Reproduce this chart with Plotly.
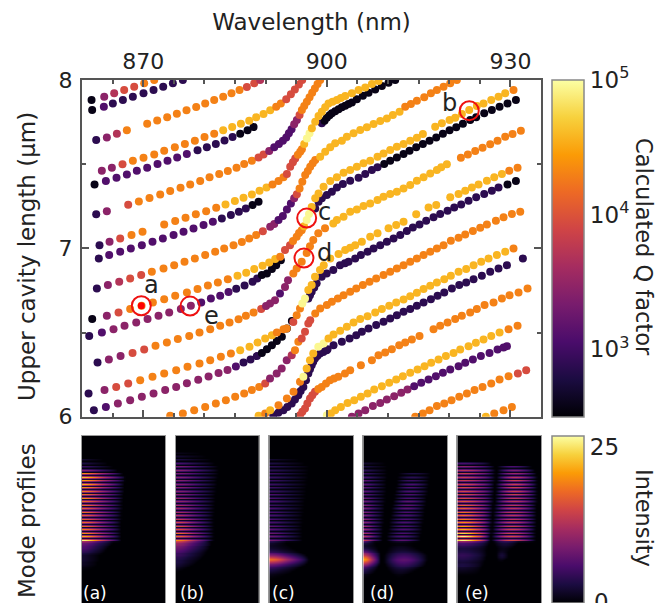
import numpy as np
import plotly.graph_objects as go

W, H = 658, 603
FONT = "DejaVu Sans"
TEXT = "#222222"

# ---- Q levels (log10 Q) ----
Q_LEVELS = dict(K=2.58, D=2.88, P=3.1, M=3.45, A=3.7, R=3.95, O=4.3, G=4.58, Y=4.95)

# ---- branches: wavelength (nm), upper cavity length (um), Q class per point ----
b01_nm = [861.56,863.63,865.26,866.89,868.53,870.16,871.8]
b01_um = [7.881,7.901,7.921,7.941,7.960,7.980,8.0]
b01_q = "KMARROO"

b02_nm = [861.66,863.57,865.04,866.68,868.31,870.05,871.69,873.27,874.85,876.48]
b02_um = [7.822,7.841,7.861,7.881,7.901,7.921,7.941,7.960,7.980,8.0]
b02_q = "KPDDDDDDDD"

b03_nm = [862.32,864.06,865.70,867.33,870.65,872.29,873.92,875.50,877.08,878.66,880.13,881.60,883.07,884.43,885.74,886.94,888.14,889.12]
b03_um = [7.643,7.659,7.681,7.701,7.740,7.760,7.778,7.800,7.820,7.840,7.861,7.881,7.901,7.921,7.941,7.958,7.980,8.0]
b03_q = "DMAOOOOOOOOOOOORRA"

b04_nm = [863.24,864.88,866.62,868.31,870.05,871.80,873.43,875.17,876.81,878.44,880.02,881.60,883.07,884.54,885.96,887.32,888.46,889.66,890.75,891.73,892.49,893.37,894.13,894.78,895.44,895.98]
b04_um = [7.461,7.479,7.499,7.521,7.538,7.558,7.580,7.600,7.620,7.639,7.661,7.681,7.701,7.721,7.740,7.758,7.778,7.798,7.820,7.841,7.861,7.885,7.915,7.944,7.974,8.0]
b04_q = "MMROOOOOOOOOGGGGGGGOORRRRR"

b05_nm = [862.05,863.90,865.64,867.33,868.96,870.65,872.34,873.97,875.55,877.13,878.88,880.40,881.87,883.29,884.60,885.85,887.05,888.03]
b05_um = [7.380,7.400,7.420,7.439,7.461,7.479,7.501,7.521,7.540,7.560,7.582,7.600,7.620,7.641,7.661,7.681,7.701,7.721]
b05_q = "KPPPPPPPPPDDDDDKKK"

b06_nm = [862.32,864.06,867.55,869.29,871.03,872.78,874.41,876.10,877.68,879.31,880.84,882.42,883.83,885.25,886.50,887.76,888.85,889.66,890.59,891.41,892.17,892.82,893.37,893.80,894.24,894.67,895.11,895.55,895.93,896.31,896.74,897.18,897.61,898.05,898.49,898.92]
b06_um = [7.202,7.220,7.259,7.279,7.299,7.320,7.340,7.360,7.380,7.400,7.422,7.441,7.459,7.479,7.501,7.521,7.540,7.558,7.578,7.600,7.620,7.639,7.659,7.683,7.707,7.737,7.762,7.792,7.822,7.845,7.871,7.897,7.925,7.950,7.976,8.0]
b06_q = "DMR" + "O"*13 + "RRM" + "P"*6 + "MMR" + "O"*8

b07_nm = [862.86,864.50,866.24,868.09,869.89,873.43,875.23,876.92,878.60,880.29,881.93,883.45,884.98,886.39,887.76,889.01,890.15,891.13,892.11,892.93,893.48,
          894.02,894.46,894.84,895.27,895.65,895.93,896.31,896.74,897.18,897.56,898.11,898.65,899.19,899.74,900.28,900.94,901.65,902.30,903.01,904.10,905.19,906.28,907.37,908.45]
b07_um = [7.019,7.039,7.059,7.079,7.099,7.142,7.162,7.182,7.202,7.221,7.241,7.261,7.281,7.301,7.320,7.342,7.362,7.380,7.400,7.422,7.441,
          7.485,7.511,7.534,7.556,7.574,7.588,7.620,7.653,7.683,7.713,7.752,7.786,7.812,7.838,7.861,7.871,7.881,7.893,7.905,7.921,7.941,7.956,7.976,7.994]
b07_q = "DMR" + "O"*8 + "G"*6 + "OOO" + "R" + "RRROOOGYY" + "G"*15

b08_nm = [899.19,899.63,900.01,900.45,900.83,901.37,901.92,902.46,903.01,903.55,904.10,904.91,905.89,906.82,907.91,909.0,910.09,911.18]
b08_um = [7.743,7.758,7.776,7.790,7.802,7.814,7.826,7.838,7.847,7.857,7.867,7.885,7.907,7.925,7.944,7.964,7.984,8.0]
b08_q = "D" + "K"*17

b09_nm = [862.43,864.23,866.08,867.87,869.67,871.41,873.32,875.06,876.75,878.44,880.13,881.76,883.23,884.76,886.12,887.32,888.46,889.55,890.75,891.41,892.11,892.82,893.48,894.13,894.67,895.11,895.55,896.0,896.47,896.9,897.29,897.7,898.11,898.92,899.74,900.56,901.37,902.46,903.28,904.37,905.46,906.55,907.64,908.73,909.82,910.80,911.89,912.81,913.74,914.72,915.92,917.01,917.99,919.08,920.17,921.25]
b09_um = [6.762,6.782,6.801,6.821,6.841,6.861,6.881,6.900,6.920,6.940,6.960,6.980,6.999,7.019,7.037,7.059,7.079,7.101,7.128,7.144,7.168,7.192,7.231,7.267,7.297,7.322,7.356,7.396,7.435,7.46,7.485,7.505,7.525,7.544,7.574,7.600,7.624,7.639,7.663,7.683,7.703,7.719,7.738,7.756,7.772,7.792,7.812,7.841,7.857,7.877,7.897,7.921,7.941,7.960,7.980,8.0]
b09_q = "DMARR" + "O"*12 + "RMM" + "PPPP" + "MR" + "O"*7 + "G"*14 + "O"*9

b10_nm = [898.11,898.65,899.19,900.01,900.83,901.65,902.63,903.82,905.19,906.28,907.37,908.29,909.38,910.36,911.45,912.54,913.52,914.61,915.70,916.79,917.88,918.97,920.06,921.15,922.24,923.43,924.41,925.72,926.97,928.23,929.53,930.90]
b10_um = [7.237,7.277,7.297,7.317,7.336,7.362,7.382,7.402,7.420,7.441,7.465,7.481,7.501,7.521,7.540,7.560,7.580,7.600,7.620,7.639,7.659,7.681,7.701,7.719,7.740,7.762,7.778,7.802,7.822,7.841,7.861,7.881]
b10_q = "D"*12 + "K"*20

b11_nm = [861.67,864.06,865.97,867.87,869.73,871.58,873.43,875.23,877.14,878.88,880.57,882.20,883.83,885.41,886.83,888.14,889.50,890.59,891.57,892.39,
          893.17,893.99,894.48,895.08,895.46,895.90,896.27,896.71,897.09,897.53,898.11,
          898.65,899.47,900.56,901.65,902.74,903.82,904.91,906.00,907.09,908.29,909.27,910.36,911.45,912.54,913.63,914.72,915.70,917.71,918.80,920.06,920.98,922.07,923.27,924.52,925.61,926.87,928.06,929.15,930.51]
b11_um = [6.580,6.599,6.619,6.639,6.659,6.679,6.698,6.718,6.738,6.758,6.780,6.797,6.817,6.837,6.855,6.877,6.896,6.916,6.936,6.950,
          6.990,7.019,7.043,7.069,7.091,7.108,7.132,7.168,7.204,7.245,7.297,
          7.326,7.366,7.400,7.422,7.449,7.465,7.485,7.505,7.521,7.544,7.564,7.584,7.604,7.620,7.639,7.657,7.679,7.723,7.743,7.762,7.776,7.798,7.822,7.845,7.861,7.881,7.901,7.921,7.941]
b11_q = "KMR" + "O"*10 + "G"*6 + "O" + "RROOOOGYYGG" + "G"*28 + "O"

b12_nm = [862.75,864.44,866.24,867.98,869.78,871.52,873.21,874.96,876.59,878.22,879.86,881.38,882.85,884.33,885.63,886.77,887.87,888.85]
b12_um = [6.940,6.960,6.980,6.999,7.019,7.039,7.059,7.079,7.099,7.118,7.138,7.158,7.178,7.198,7.218,7.237,7.257,7.277]
b12_q = "D" + "P"*11 + "DDDD" + "KK"

b13_nm = [861.18,863.25,865.15,866.95,868.86,870.71,872.50,874.25,876.15,877.79,879.48,881.06,882.58,883.94,885.20,886.56,887.87,888.63,889.39,890.21,891.03,891.73,892.49]
b13_um = [6.480,6.500,6.520,6.540,6.560,6.580,6.599,6.619,6.639,6.659,6.679,6.702,6.718,6.740,6.760,6.780,6.801,6.821,6.841,6.851,6.877,6.900,6.930]
b13_q = "DP" + "M"*8 + "PPPP" + "DDDD" + "KKKKK"

b14_nm = [862.54,864.39,866.30,868.26,870.16,872.01,873.87,875.66,877.52,879.20,880.95,882.58,884.11,885.58,886.78,888.03,889.28,
          890.07,890.72,891.54,892.35,893.17,893.66,894.53,895.08,895.90,896.71,897.25,897.79,898.61,899.71,901.06,
          901.65,902.74,903.82,904.91,906.0,907.09,908.29,909.27,910.36,911.45,912.54,913.63,914.72,915.81,916.90,917.99,918.70,919.62,
          921.91,923.05,924.25,925.45,926.70,927.90,929.15,930.35,931.71]
b14_um = [6.322,6.340,6.360,6.379,6.399,6.421,6.441,6.461,6.480,6.500,6.520,6.540,6.560,6.579,6.599,6.619,6.639,
          6.657,6.673,6.692,6.732,6.770,6.811,6.851,6.881,6.920,6.972,7.013,7.049,7.089,7.119,7.148,
          7.168,7.188,7.217,7.231,7.251,7.267,7.287,7.307,7.323,7.336,7.356,7.376,7.402,7.422,7.445,7.465,7.481,7.499,
          7.538,7.558,7.578,7.598,7.618,7.639,7.663,7.679,7.699]
b14_q = "DMMRR" + "O"*11 + "R" + "MMMPMM" + "O"*8 + "G" + "G"*18 + "O"*9

b15_nm = [861.07,863.68,865.59,867.55,869.51,871.52,873.43,875.39,877.24,879.20,880.95,882.69,884.33,885.85,887.37,888.68,889.93,891.03,891.84,892.93,
          893.45,894.53,895.08,895.62,896.0,896.44,896.98,897.53,898.07,898.89,899.5,900.56,901.92,903.0,903.82,904.64,
          905.73,907.09,908.29,910.09,911.34,912.54,914.61,916.63,917.88,920.17,921.53,922.62,923.71,924.80,926.16,927.36,928.61,929.81,931.17]
b15_um = [6.138,6.158,6.177,6.197,6.217,6.237,6.257,6.276,6.296,6.316,6.336,6.356,6.375,6.395,6.415,6.441,6.465,6.484,6.500,6.520,
          6.524,6.563,6.603,6.643,6.673,6.702,6.752,6.782,6.831,6.871,6.90,6.94,6.966,6.99,7.003,7.019,
          7.039,7.069,7.089,7.119,7.138,7.158,7.202,7.243,7.257,7.303,7.323,7.342,7.362,7.380,7.402,7.422,7.441,7.461,7.479]
b15_q = "DMRR" + "O"*9 + "G"*5 + "OO" + "OROOYY" + "G"*10 + "G"*17 + "OO"

b16_nm = [861.94,863.90,865.86,867.87,869.78,871.69,873.59,875.39,877.14,878.99,880.68,882.31,883.78,885.14,886.39,887.54,888.57,889.39,890.21,891.03,891.84,892.66,893.48,894.29]
b16_um = [6.039,6.058,6.078,6.098,6.118,6.138,6.158,6.177,6.199,6.219,6.239,6.259,6.278,6.298,6.322,6.340,6.360,6.379,6.401,6.425,6.449,6.475,6.524,6.568]
b16_q = "DP" + "M"*11 + "P" + "DDD" + "K"*7

b17_nm = [896.98,897.25,897.53,897.95,898.34,899.16,899.98,901.06,902.16,902.97,903.55,904.64,905.57,906.66,907.64,908.73,909.82,910.91,912.0,913.08,914.06,915.15,916.24,917.44,918.53,919.73,920.82,921.96,923.16,924.41,925.72,926.97,928.06,929.53,930.90]
b17_um = [6.702,6.722,6.742,6.767,6.792,6.831,6.851,6.871,6.900,6.911,6.920,6.940,6.960,6.980,6.999,7.019,7.039,7.059,7.079,7.103,7.124,7.142,7.164,7.184,7.204,7.223,7.243,7.261,7.283,7.303,7.323,7.342,7.362,7.380,7.400]
b17_q = "D"*33 + "KK"

b18_nm = [874.41,876.48,878.33,880.13,881.87,883.51,885.03,886.50,887.76,888.95,889.93,
          890.72,891.81,892.63,893.45,894.27,894.80,895.35,895.90,896.44,896.98,897.29,898.11,898.92,900.01,900.83,901.81,902.74,903.82,904.81,905.89,906.98,908.07,909.27,910.36,911.45,912.54,913.63,914.72,915.81,916.90,917.99,919.08,920.27,921.53,922.62,923.87,925.07,926.16,927.63,928.88,930.24,931.61]
b18_um = [6.005,6.019,6.039,6.058,6.078,6.098,6.118,6.138,6.158,6.177,6.197,
          6.227,6.257,6.286,6.336,6.365,6.395,6.445,6.465,6.504,6.554,6.573,6.613,6.643,6.663,6.683,6.702,6.722,6.742,6.762,6.782,6.801,6.821,6.841,6.861,6.881,6.900,6.920,6.940,6.960,6.980,6.999,7.019,7.045,7.063,7.083,7.103,7.122,7.142,7.164,7.184,7.204,7.218]
b18_q = "O"*10 + "R" + "MMMMAOORRRR" + "O"*31

b19_nm = [888.85,889.93,890.75,892.11,893.48,894.56,895.62,896.17,896.71,897.25,897.79,898.61,899.47,900.28,901.10,902.19,903.28,904.37,905.46,906.66,907.91,909.0,910.20,911.34,912.54,913.63,914.72,915.81,916.90,917.99,919.19,920.27,921.53,922.78,923.98,925.23,926.43,927.79,929.15,930.51]
b19_um = [6.005,6.019,6.039,6.068,6.108,6.148,6.207,6.237,6.286,6.336,6.376,6.415,6.435,6.465,6.488,6.510,6.534,6.560,6.580,6.597,6.619,6.639,6.659,6.679,6.696,6.716,6.736,6.758,6.778,6.797,6.817,6.837,6.861,6.877,6.900,6.920,6.940,6.960,6.980,6.999]
b19_q = "GOGOOOOYGGGYY" + "G"*26 + "O"

b20_nm = [891.26,892.08,892.90,893.55,894.27,894.80,895.35,895.73,896.17,896.6,896.98,897.25,897.53,897.79,898.07,898.45,898.89,899.43,899.98,900.12,901.10,902.46,903.72,904.81,905.73,906.82,908.07,909.27,910.36,911.45,912.54,913.63,914.72,915.81,917.01,918.10,919.19,920.44,921.64,922.78,923.98,925.34,926.70,928.06,929.43,932.04]
b20_um = [6.009,6.024,6.039,6.058,6.078,6.102,6.128,6.152,6.177,6.217,6.257,6.282,6.306,6.326,6.346,6.361,6.376,6.385,6.395,6.401,6.425,6.445,6.465,6.484,6.504,6.524,6.544,6.564,6.583,6.603,6.623,6.639,6.659,6.679,6.698,6.718,6.738,6.762,6.782,6.797,6.817,6.837,6.861,6.881,6.900,6.940]
b20_q = "D"*46

b21_nm = [895.62,896.0,896.44,896.82,897.25,897.63,898.07,898.61,899.16,899.87,900.52,901.18,901.88,902.97,903.82,905.57,907.37,908.45,909.54,910.63,911.83,912.81,913.90,915.15,917.44,918.53,919.73,920.98,922.07,923.43,924.52,925.78,927.25,928.61,929.86,931.33,932.80]
b21_um = [6.009,6.029,6.049,6.078,6.108,6.128,6.148,6.164,6.177,6.197,6.217,6.227,6.237,6.257,6.276,6.306,6.336,6.365,6.381,6.401,6.425,6.441,6.459,6.480,6.520,6.540,6.560,6.580,6.599,6.619,6.639,6.663,6.679,6.702,6.722,6.738,6.762]
b21_q = "R"*7 + "O"*30

b22_nm = [900.01,900.67,901.37,902.30,903.39,904.48,905.57,906.66,907.75,909.0,910.20,911.34,912.43,913.63,914.83,915.97,917.06,918.26,919.46,920.71,921.80,923.16,924.36,925.61,926.87,928.23,929.70,931.17]
b22_um = [6.009,6.019,6.039,6.058,6.082,6.098,6.118,6.138,6.162,6.181,6.201,6.221,6.241,6.261,6.280,6.300,6.320,6.340,6.360,6.379,6.399,6.419,6.439,6.459,6.480,6.500,6.520,6.540]
b22_q = "Y" + "G"*25 + "OO"

b23_nm = [904.10,905.19,906.28,907.53,908.73,909.82,911.01,912.16,913.19,914.28,915.43,916.63,917.82,918.97,920.17,921.53,922.62,923.87,925.18,926.59,927.90,928.88,929.43]
b23_um = [6.0,6.019,6.039,6.063,6.082,6.102,6.122,6.142,6.162,6.181,6.201,6.221,6.241,6.261,6.280,6.300,6.320,6.340,6.360,6.379,6.399,6.411,6.419]
b23_q = "M"*9 + "P"*14

b24_nm = [914.45,915.70,916.79,917.99,919.19,920.38,921.64,922.89,924.14,925.45,926.87,928.23,929.70,931.22,932.58]
b24_um = [6.0,6.019,6.039,6.063,6.078,6.098,6.118,6.138,6.158,6.177,6.197,6.221,6.241,6.257,6.276]
b24_q = "O"*13 + "RR"

b25_nm = [925.99,927.36,928.88,930.24]
b25_um = [6.0,6.019,6.039,6.058]
b25_q = "GOOO"

BRANCHES = [
    (b02_nm,b02_um,b02_q),(b05_nm,b05_um,b05_q),(b08_nm,b08_um,b08_q),(b10_nm,b10_um,b10_q),
    (b12_nm,b12_um,b12_q),(b13_nm,b13_um,b13_q),(b16_nm,b16_um,b16_q),(b17_nm,b17_um,b17_q),
    (b20_nm,b20_um,b20_q),(b23_nm,b23_um,b23_q),
    (b01_nm,b01_um,b01_q),(b03_nm,b03_um,b03_q),(b04_nm,b04_um,b04_q),(b06_nm,b06_um,b06_q),
    (b07_nm,b07_um,b07_q),(b09_nm,b09_um,b09_q),(b11_nm,b11_um,b11_q),(b14_nm,b14_um,b14_q),
    (b15_nm,b15_um,b15_q),(b18_nm,b18_um,b18_q),(b19_nm,b19_um,b19_q),(b21_nm,b21_um,b21_q),
    (b22_nm,b22_um,b22_q),(b24_nm,b24_um,b24_q),(b25_nm,b25_um,b25_q),
]

# ---- marked modes ----
mark_labels = ["a", "e", "c", "d", "b"]
mark_nm = [869.69, 877.65, 896.71, 896.27, 923.28]
mark_um = [6.659, 6.657, 7.180, 6.942, 7.818]
label_nm = [871.3, 881.2, 899.6, 899.6, 920.0]
label_um = [6.785, 6.60, 7.215, 6.97, 7.865]

# ---- mode profile panels: intensity read per stripe / per row ----
stripe_env = [1, .97, .9, .8, .68, .57, .47, .37, .27, .15, 0]
flat_env = [.9, 1, 1, .95, .9, .8, .7, .6, .45, .25, 0]
bell_env = [0, .35, .65, .88, 1, 1, .92, .75, .55, .3, 0]

a_peak = [2,3,5,10,20,23,21,22,20,19,18,20,18,18,17,18,17,17,18,18,19,20,22,26]
a_ext = [.24,.30,.36,.42,.48,.52,.52,.50,.50,.50,.49,.49,.48,.48,.48,.47,.47,.47,.46,.46,.46,.46,.46,.46]
a_low = [9,8,7,6.5,6,5,4,3,2,2,2,2,1.5,1.5,1,.6,.3]
a_low_ext = [.36,.36,.34,.32,.30,.28,.26,.24,.2,.2,.2,.2,.18,.18,.16,.14,.1]

b_peak = [1,2,3,6,9,10,9,10,10,10,10,10,10,11,11,12,12,12,13,14,15,16,16,18,18,20]
b_ext = [.30,.36,.42,.46,.50,.51,.51,.50,.49,.49,.48,.48,.47,.47,.47,.46,.46,.46,.45,.45,.45,.45,.45,.45,.45,.45]
b_low = [13,11,10,9,8,7,6,5,5,4,3.5,3,3,2.5,2,1.5,.8,.3]
b_low_ext = [.4,.42,.42,.4,.4,.38,.36,.36,.34,.32,.3,.28,.25,.22,.18,.14,.1,.05]

c_peak = [2,3,4,4,5,5,5,5,5,5,6,6,6,5,6,6,6,6,6,7,7,8,8,9]
c_ext = [.35,.42,.47,.47,.46,.46,.45,.45,.44,.44,.43,.43,.42,.42,.41,.41,.40,.40,.40,.39,.39,.39,.39,.39]
c_low = [3,2,1.5,1.5,2,3,4.5,7,10,14,18,17,13,9,6.5,5,3.5,2.5,1.5,1,.5,.2]
c_low_ext = [.2,.2,.22,.25,.28,.32,.36,.4,.44,.46,.47,.47,.46,.44,.4,.36,.32,.28,.24,.2,.15,.1]

d1_peak = [2,3,4,5,6,7,7,7,7,7,8,8,9,9,9,9,10,10,11,11,12,13,14]
d1_ext = [.26,.28,.28,.28,.28,.27,.27,.27,.27,.26,.26,.26,.25,.25,.25,.24,.24,.24,.23,.23,.23,.22,.22]
d2_peak = [3,4,5,6,6,6,6,6,7,7,7,6,6,6,6,6,6,6,6,7]
d2_left = [.41,.40,.39,.39,.38,.37,.36,.36,.35,.34,.33,.33,.32,.31,.30,.30,.29,.28,.27,.27]
d2_right = [.80,.79,.78,.78,.77,.77,.76,.75,.75,.74,.73,.73,.72,.72,.71,.70,.70,.69,.68,.68]
d1_low = [5,3,2,2,3,5,8,11,14,18,21,20,16,12,8,6,4,3,2,1,.5,.2]
d1_low_ext = [.12,.14,.15,.16,.17,.18,.19,.2,.2,.2,.2,.2,.2,.19,.18,.17,.16,.14,.12,.1,.08,.05]
d2_low = [1,.5,.5,1,1.5,2,3,4,5,6,7,7,6,5,4,3,2,1.5,1,.5,.2,0]
d2_low_left = [.30,.30,.30,.30,.28,.27,.26,.25,.24,.24,.24,.24,.24,.25,.26,.27,.28,.3,.32,.34,.36,.38]
d2_low_right = [.6,.6,.6,.6,.64,.68,.72,.74,.76,.76,.76,.76,.75,.74,.72,.68,.64,.6,.56,.52,.48,.44]

e1_peak = [6,10,13,14,14,14,15,15,15,15,15,16,17,17,18,18,19,20,21,22,24,26,26]
e1_ext = [.40,.44,.45,.45,.45,.45,.44,.44,.44,.43,.43,.43,.42,.42,.42,.41,.41,.41,.40,.40,.40,.39,.39]
e2_peak = [6,9,11,13,14,14,14,14,14,13,13,13,13,13,13,13,13,14,14,14,15,15]
e2_left = [.47,.47,.46,.46,.46,.45,.45,.45,.44,.44,.44,.43,.43,.42,.42,.42,.41,.41,.41,.40,.40,.40]
e2_right = [.88,.92,.94,.95,.95,.95,.95,.95,.95,.95,.95,.94,.94,.94,.94,.94,.94,.94,.93,.93,.93,.93]
e1_low = [8,6,5,4,3,3,3.5,4,4.5,4,3.5,3,2.5,3,3,2,1.5,1,.5,.2]
e1_low_ext = [.38,.38,.37,.36,.36,.35,.35,.35,.35,.34,.34,.33,.32,.31,.30,.29,.28,.27,.26,.25]
e2_low = [3,2.5,2,1.5,1,1,1.5,2,2.5,2,1,.5]
e2_low_left = [.43,.43,.44,.45,.46,.46,.46,.46,.46,.46,.47,.47]
e2_low_right = [.72,.72,.70,.68,.64,.62,.6,.6,.6,.6,.58,.56]

panel_labels = ["(a)", "(b)", "(c)", "(d)", "(e)"]
panel_label_px = [95, 192, 283, 382, 477]
panel_px = [(82, 165), (175.7, 259), (269.3, 353.3), (363.3, 447), (457.3, 541)]
ROWS, COLS = 96, 42
LAST_STRIPE, FIRST_LOW = 59, 60
frac = (np.arange(COLS) + .5) / COLS


def q_vals(q, n):
    q = (q + q[-1] * n)[:n]
    return [Q_LEVELS[c] for c in q]


def add(z, k, peak, left, right, env):
    xs = np.linspace(left, right, len(env))
    z[k] += peak * np.interp(frac, xs, env, left=0, right=0)


def stripes(z, peak, left, right, env):
    n = len(peak)
    start = LAST_STRIPE - 2 * (n - 1)
    for i in range(n):
        k = start + 2 * i
        add(z, k, peak[i], left[i], right[i], env)
        add(z, k + 1, .12 * peak[i], left[i], right[i], env)


def lower(z, peak, left, right, env):
    for i in range(len(peak)):
        add(z, FIRST_LOW + i, peak[i], left[i], right[i], env)


def zero(v):
    return [0] * len(v)


Za = np.zeros((ROWS, COLS))
stripes(Za, a_peak, zero(a_peak), a_ext, stripe_env)
lower(Za, a_low, zero(a_low), a_low_ext, stripe_env)
Zb = np.zeros((ROWS, COLS))
stripes(Zb, b_peak, zero(b_peak), b_ext, stripe_env)
lower(Zb, b_low, zero(b_low), b_low_ext, stripe_env)
Zc = np.zeros((ROWS, COLS))
stripes(Zc, c_peak, zero(c_peak), c_ext, stripe_env)
lower(Zc, c_low, zero(c_low), c_low_ext, stripe_env)
Zd = np.zeros((ROWS, COLS))
stripes(Zd, d1_peak, zero(d1_peak), d1_ext, stripe_env)
stripes(Zd, d2_peak, d2_left, d2_right, bell_env)
lower(Zd, d1_low, zero(d1_low), d1_low_ext, stripe_env)
lower(Zd, d2_low, d2_low_left, d2_low_right, bell_env)
Ze = np.zeros((ROWS, COLS))
stripes(Ze, e1_peak, zero(e1_peak), e1_ext, flat_env)
stripes(Ze, e2_peak, e2_left, e2_right, bell_env)
lower(Ze, e1_low, zero(e1_low), e1_low_ext, flat_env)
lower(Ze, e2_low, e2_low_left, e2_low_right, bell_env)
PANELS = [Za, Zb, Zc, Zd, Ze]

fig = go.Figure()

for nm, um, q in BRANCHES:
    fig.add_trace(go.Scatter(x=nm, y=um, mode="markers", showlegend=False,
                             marker=dict(size=8, color=q_vals(q, len(nm)), coloraxis="coloraxis", line=dict(width=0))))

fig.add_trace(go.Scatter(x=mark_nm[:1], y=mark_um[:1], mode="markers", showlegend=False,
                         marker=dict(size=7, color="#ff0000", line=dict(width=0))))
fig.add_trace(go.Scatter(x=mark_nm, y=mark_um, mode="markers", showlegend=False,
                         marker=dict(symbol="circle-open", size=19, color="#ee1111", line=dict(width=2, color="#ee1111"))))

for i, z in enumerate(PANELS):
    s = str(i + 2)
    fig.add_trace(go.Heatmap(z=z.tolist(), x=(frac).tolist(), y=list(range(ROWS)), coloraxis="coloraxis2",
                             zsmooth="best", xaxis="x" + s, yaxis="y" + s, hoverinfo="skip"))

line_col = "#555555"
layout = dict(
    width=W, height=H, autosize=False, margin=dict(l=0, r=0, t=0, b=0, autoexpand=False),
    paper_bgcolor="white", plot_bgcolor="white", font=dict(family=FONT, size=22, color=TEXT),
    showlegend=False,
    xaxis=dict(domain=[82 / W, 541 / W], range=[860, 935], side="top", tick0=870, dtick=30, ticks="inside", ticklen=7,
               tickwidth=1.5, tickcolor=line_col, showgrid=False, zeroline=False, showline=True, linecolor=line_col,
               linewidth=2, mirror="allticks", minor=dict(dtick=5, tick0=860, ticks="inside", ticklen=4, tickwidth=1.5, tickcolor=line_col, showgrid=False),
               title=dict(text="Wavelength (nm)", standoff=12, font=dict(size=23))),
    yaxis=dict(domain=[(H - 416.7) / H, (H - 80) / H], range=[6, 8], tick0=6, dtick=1, ticks="inside", ticklen=7,
               tickwidth=1.5, tickcolor=line_col, showgrid=False, zeroline=False, showline=True, linecolor=line_col,
               linewidth=2, mirror="allticks", minor=dict(dtick=.5, tick0=6, ticks="inside", ticklen=4, tickwidth=1.5, tickcolor=line_col, showgrid=False),
               ticklabelstandoff=3),
    coloraxis=dict(colorscale="Inferno", cmin=2.5, cmax=5, colorbar=dict(
        x=551.7 / W, xanchor="left", xpad=0, y=(H - 416.7) / H, yanchor="bottom", ypad=0, lenmode="pixels", len=336.7,
        thicknessmode="pixels", thickness=31.6, tickmode="array", tickvals=[3, 4, 5],
        ticktext=["10<sup>3</sup>", "10<sup>4</sup>", "10<sup>5</sup>"], ticks="", outlinecolor="#888888", outlinewidth=1.5,
        tickfont=dict(size=23, color=TEXT))),
    coloraxis2=dict(colorscale="Inferno", cmin=0, cmax=26.8, colorbar=dict(
        x=551.7 / W, xanchor="left", xpad=0, y=0, yanchor="bottom", ypad=0, lenmode="pixels", len=167,
        thicknessmode="pixels", thickness=31.6, tickmode="array", tickvals=[25], ticktext=["25"], ticks="",
        outlinecolor="#888888", outlinewidth=1.5, tickfont=dict(size=23, color=TEXT))),
)
for i, (x0, x1) in enumerate(panel_px):
    s = str(i + 2)
    layout["xaxis" + s] = dict(domain=[x0 / W, x1 / W], range=[0, 1], showticklabels=False, ticks="", showgrid=False, zeroline=False,
                               showline=True, linecolor="#999999", linewidth=1, mirror=True, anchor="y" + s)
    layout["yaxis" + s] = dict(domain=[0, (H - 436) / H], range=[ROWS - .5, -.5], showticklabels=False, ticks="", showgrid=False,
                               zeroline=False, showline=True, linecolor="#999999", linewidth=1, mirror=True, anchor="x" + s)

annotations = []
for t, x, y in zip(mark_labels, label_nm, label_um):
    annotations.append(dict(text=t, x=x, y=y, xref="x", yref="y", showarrow=False, font=dict(size=24, color=TEXT)))
for t, xp in zip(panel_labels, panel_label_px):
    annotations.append(dict(text=t, x=xp / W, y=(H - 593) / H, xref="paper", yref="paper", xanchor="center", yanchor="middle",
                            showarrow=False, font=dict(size=17, color="white")))
side_titles = [("Upper cavity length (µm)", 27, 257, -90, 23), ("Mode profiles", 27, 521, -90, 23),
               ("Calculated Q factor", 644, 247, 90, 22.5), ("Intensity", 644, 518, 90, 22.5)]
for t, xp, yp, ang, sz in side_titles:
    annotations.append(dict(text=t, x=xp / W, y=(H - yp) / H, xref="paper", yref="paper", xanchor="center", yanchor="middle",
                            textangle=ang, showarrow=False, font=dict(size=sz, color=TEXT)))
annotations.append(dict(text="0", x=601 / W, y=(H - 602) / H, xref="paper", yref="paper", xanchor="center", yanchor="middle",
                        showarrow=False, font=dict(size=23, color=TEXT)))
layout["annotations"] = annotations
fig.update_layout(**layout)
fig.write_html("out.html", config={"displayModeBar": False},
               post_script="document.body.style.margin='0';document.body.style.overflow='hidden';")
